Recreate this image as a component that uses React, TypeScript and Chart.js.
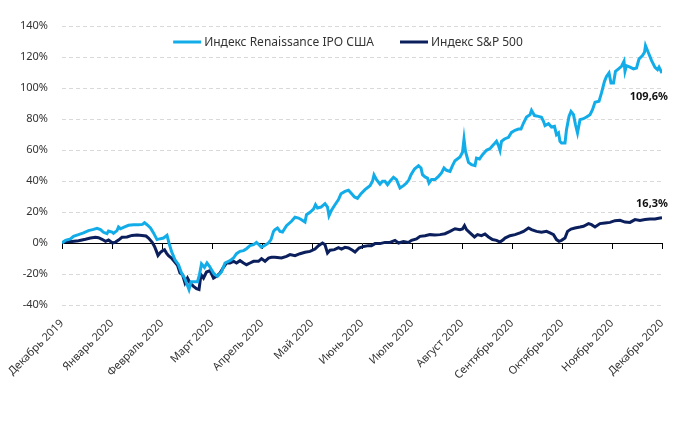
import React, { useEffect, useRef } from 'react';
import { Chart, registerables } from 'chart.js';

Chart.register(...registerables);

const monthLabels = [
  'Декабрь 2019', 'Январь 2020', 'Февраль 2020', 'Март 2020', 'Апрель 2020', 'Май 2020',
  'Июнь 2020', 'Июль 2020', 'Август 2020', 'Сентябрь 2020', 'Октябрь 2020', 'Ноябрь 2020', 'Декабрь 2020',
];

const seriesNames = ['Индекс Renaissance IPO США', 'Индекс S&P 500'];

// time in months since the start of December 2019
const ipoT = [
  0, 0.07, 0.17, 0.23, 0.33, 0.43, 0.53, 0.63, 0.7, 0.77, 0.83, 0.9, 0.93, 1.0, 1.03, 1.1, 1.13, 1.17, 1.23,
  1.33, 1.43, 1.53, 1.61, 1.65, 1.7, 1.77, 1.83, 1.9, 1.97, 2.03, 2.1, 2.14, 2.19, 2.26, 2.33, 2.39, 2.45,
  2.49, 2.54, 2.58, 2.65, 2.71, 2.75, 2.79, 2.85, 2.9, 2.95, 2.99, 3.03, 3.06, 3.11, 3.19, 3.26, 3.36, 3.43,
  3.49, 3.56, 3.63, 3.69, 3.76, 3.83, 3.89, 3.94, 3.99, 4.06, 4.13, 4.18, 4.23, 4.26, 4.31, 4.36, 4.41, 4.49,
  4.59, 4.66, 4.73, 4.79, 4.86, 4.89, 4.96, 5.03, 5.07, 5.11, 5.18, 5.26, 5.31, 5.34, 5.39, 5.46, 5.53, 5.58,
  5.66, 5.73, 5.78, 5.85, 5.91, 5.98, 6.06, 6.16, 6.21, 6.24, 6.29, 6.36, 6.41, 6.46, 6.51, 6.56, 6.63, 6.69,
  6.76, 6.83, 6.89, 6.94, 6.98, 7.05, 7.13, 7.18, 7.21, 7.26, 7.31, 7.34, 7.39, 7.46, 7.53, 7.59, 7.64, 7.69,
  7.76, 7.81, 7.86, 7.96, 8.01, 8.04, 8.07, 8.13, 8.19, 8.26, 8.29, 8.35, 8.41, 8.49, 8.56, 8.61, 8.66, 8.69,
  8.73, 8.76, 8.79, 8.85, 8.93, 8.99, 9.06, 9.13, 9.18, 9.23, 9.29, 9.36, 9.39, 9.45, 9.53, 9.59, 9.63, 9.66,
  9.73, 9.79, 9.85, 9.89, 9.93, 9.96, 9.99, 10.06, 10.09, 10.14, 10.18, 10.23, 10.27, 10.31, 10.36, 10.43,
  10.49, 10.56, 10.61, 10.66, 10.74, 10.79, 10.85, 10.89, 10.94, 10.98, 11.03, 11.07, 11.13, 11.19, 11.24,
  11.26, 11.29, 11.36, 11.43, 11.49, 11.54, 11.61, 11.65, 11.67, 11.73, 11.79, 11.86, 11.91, 11.94, 12,
];
const ipoV = [
  0, 1.7, 2.6, 4.3, 5.4, 6.5, 8.0, 8.8, 9.5, 8.6, 6.9, 6.0, 7.7, 7.1, 6.2, 8.0, 10.3, 9.2, 10.1,
  11.4, 11.8, 11.8, 12.0, 13.1, 11.8, 9.7, 6.5, 2.2, 2.8, 3.2, 4.9, 0, -5.4, -10.8, -14, -19.4, -22.6,
  -25.8, -30, -25, -25, -25, -20.4, -13.5, -15.7, -12.9, -15, -17.2, -19.4, -20.4, -21.5, -18.7, -12.9, -11.4, -9.7,
  -6.9, -5.4, -4.9, -3.7, -1.7, -1.1, 0.4, -1.1, -2.8, -1.5, 0, 2.2, 7.5, 8.6, 9.7, 7.5, 7.1, 11.2,
  14, 16.6, 16.1, 15, 13.5, 18.3, 19.8, 21.9, 24.7, 22.6, 23.2, 25.4, 23.2, 17.6, 21.1, 24.7, 28, 31.8,
  33.3, 34, 32.3, 29.7, 28.8, 31.8, 34.4, 37, 39.8, 43.9, 40.9, 38, 39.8, 39.8, 37.6, 39.8, 42.4, 40.9,
  35.5, 37, 38.7, 40.9, 44.1, 47.7, 49.9, 48.4, 44.1, 42.6, 41.9, 38.7, 40.9, 40.9, 43, 45.2, 48.4, 46.9,
  46.2, 49.9, 53.1, 55.5, 58.5, 67.1, 59.1, 52, 50.5, 49.9, 54.8, 54.2, 57, 59.8, 60.9, 62.8, 64.5, 65.6,
  62.8, 59.8, 65.6, 67.1, 68.2, 71.4, 72.7, 73.5, 73.5, 77.4, 81.3, 82.8, 85.6, 82.2, 81.7, 81.1, 78.5, 75.7,
  77, 74.8, 75.3, 69.9, 71, 65.6, 64.5, 64.5, 73.1, 81.7, 84.9, 82.8, 76.3, 71, 79.6, 80.2,
  81.3, 82.8, 86, 90.8, 91.4, 96.8, 104.3, 107.5, 109.7, 103.2, 103.2, 110.8, 112.3, 114, 117.2,
  110.8, 114.4, 113.5, 112.3, 112.9, 118.7, 120.9, 123, 127.3, 122.6, 117.8, 113.3, 111.8, 113.5, 109.6,
];

const spxT = [
  0, 0.07, 0.2, 0.33, 0.47, 0.57, 0.67, 0.73, 0.8, 0.87, 0.93, 1.01, 1.07, 1.13, 1.2, 1.3, 1.4, 1.5, 1.6,
  1.68, 1.73, 1.8, 1.85, 1.89, 1.92, 1.97, 2.01, 2.05, 2.09, 2.13, 2.19, 2.26, 2.31, 2.36, 2.41, 2.46, 2.51,
  2.56, 2.63, 2.69, 2.74, 2.78, 2.83, 2.89, 2.96, 3.03, 3.09, 3.16, 3.23, 3.29, 3.36, 3.43, 3.49, 3.56, 3.63,
  3.69, 3.76, 3.83, 3.93, 3.99, 4.06, 4.13, 4.19, 4.26, 4.39, 4.49, 4.56, 4.66, 4.76, 4.86, 4.96, 5.06, 5.13,
  5.21, 5.26, 5.31, 5.36, 5.45, 5.53, 5.59, 5.66, 5.73, 5.81, 5.86, 5.94, 6.03, 6.13, 6.19, 6.26, 6.36, 6.46,
  6.56, 6.66, 6.73, 6.83, 6.93, 6.99, 7.09, 7.16, 7.26, 7.36, 7.46, 7.56, 7.66, 7.76, 7.86, 7.96, 8.01, 8.05,
  8.09, 8.16, 8.25, 8.31, 8.39, 8.46, 8.53, 8.61, 8.69, 8.76, 8.83, 8.86, 8.96, 9.06, 9.16, 9.23, 9.33, 9.39,
  9.49, 9.59, 9.69, 9.76, 9.83, 9.89, 9.94, 9.99, 10.06, 10.11, 10.18, 10.26, 10.36, 10.43, 10.53, 10.59,
  10.66, 10.76, 10.86, 10.96, 11.06, 11.16, 11.26, 11.36, 11.46, 11.56, 11.66, 11.76, 11.86, 11.96, 12,
];
const spxV = [
  0, 1.1, 0.9, 1.5, 2.4, 3.2, 3.7, 3.4, 2.4, 1.1, 1.9, 0, 0.6, 1.9, 3.7, 3.9, 4.9, 5.2, 4.9,
  4.5, 3.2, 0.6, -2.2, -5.4, -8.0, -6.0, -5.0, -4.3, -6.5, -8.2, -9.7, -12.5, -14.4, -19.4, -20.4, -25.8, -22.6,
  -25.8, -28, -29.5, -30, -20.4, -22.6, -18.7, -17.8, -22.6, -21.5, -19.4, -15.7, -12.9, -12.9, -11.8, -12.9, -11.4, -12.9,
  -14, -12.9, -11.8, -11.8, -10.1, -11.8, -9.7, -9.2, -9.2, -9.7, -8.6, -7.5, -8.2, -6.9, -6, -5.4, -3.9, -1.7,
  0, -1.1, -6.5, -4.7, -4.3, -3, -3.9, -2.8, -3.2, -4.7, -5.8, -3.2, -2.2, -1.7, -1.7, -0.4, -0.4, 0.4,
  0.4, 1.7, 0, 0.9, 0.4, 1.7, 2.6, 4.3, 4.7, 5.4, 5.2, 5.4, 6, 7.5, 9.2, 8.6, 9, 11.2,
  8.6, 6.5, 3.9, 5.4, 4.7, 5.8, 3.9, 2.2, 1.7, 0.6, 2.2, 3.2, 4.7, 5.4, 6.5, 7.5, 9.7, 8.6,
  7.5, 6.9, 7.5, 6.5, 5.4, 2.2, 1.1, 1.7, 3.2, 7.5, 9, 9.7, 10.3, 10.8, 12.5, 11.8,
  10.3, 12.5, 12.9, 13.3, 14.4, 14.6, 13.5, 13.3, 15.1, 14.6, 15.1, 15.5, 15.5, 16.1, 16.3,
];

const FONT = '"Noto Sans", sans-serif';
const TEXT = '#333333';
const IPO_COLOR = '#12ADE9';
const SPX_COLOR = '#0B1F5C';

const fmtPct = (v: number) => v.toFixed(1).replace('.', ',') + '%';

const innerLegend = {
  id: 'innerLegend',
  afterDraw(chart: any) {
    const { ctx, chartArea } = chart;
    ctx.save();
    ctx.font = `12px ${FONT}`;
    const lineW = 28;
    const gapText = 3;
    const gapItems = 26;
    const items = chart.data.datasets.map((ds: any) => ({
      text: ds.label,
      color: ds.borderColor,
      w: lineW + gapText + ctx.measureText(ds.label).width,
    }));
    const total = items.reduce((s: number, it: any) => s + it.w, 0) + gapItems * (items.length - 1);
    let x = (chartArea.left + chartArea.right) / 2 - 14 - total / 2;
    const y = chartArea.top + 16;
    ctx.textBaseline = 'middle';
    ctx.textAlign = 'left';
    for (const it of items) {
      ctx.strokeStyle = it.color;
      ctx.lineWidth = 3;
      ctx.beginPath();
      ctx.moveTo(x, y);
      ctx.lineTo(x + lineW, y);
      ctx.stroke();
      ctx.fillStyle = TEXT;
      ctx.fillText(it.text, x + lineW + gapText, y + 1);
      x += it.w + gapItems;
    }
    ctx.restore();
  },
};

const endLabels = {
  id: 'endLabels',
  afterDatasetsDraw(chart: any) {
    const { ctx } = chart;
    ctx.save();
    ctx.font = `bold 11px ${FONT}`;
    ctx.fillStyle = '#111111';
    ctx.textAlign = 'right';
    ctx.textBaseline = 'middle';
    chart.data.datasets.forEach((ds: any, i: number) => {
      const meta = chart.getDatasetMeta(i);
      const pt = meta.data[meta.data.length - 1];
      const v = ds.data[ds.data.length - 1].y;
      ctx.fillText(fmtPct(v), pt.x + 6, pt.y + ds.labelDy);
    });
    ctx.restore();
  },
};

export default function App() {
  const ref = useRef<HTMLCanvasElement>(null);
  useEffect(() => {
    const chart = new Chart(ref.current!, {
      type: 'line',
      data: {
        datasets: [
          {
            label: seriesNames[0],
            data: ipoT.map((t, i) => ({ x: t, y: ipoV[i] })),
            borderColor: IPO_COLOR,
            backgroundColor: IPO_COLOR,
            borderWidth: 3,
            pointRadius: 0,
            tension: 0,
            labelDy: 24,
          } as any,
          {
            label: seriesNames[1],
            data: spxT.map((t, i) => ({ x: t, y: spxV[i] })),
            borderColor: SPX_COLOR,
            backgroundColor: SPX_COLOR,
            borderWidth: 3,
            pointRadius: 0,
            tension: 0,
            labelDy: -14,
          } as any,
        ],
      },
      options: {
        animation: false,
        responsive: true,
        maintainAspectRatio: false,
        layout: { padding: { top: 26, right: 18, left: 0, bottom: 0 } },
        plugins: { legend: { display: false }, tooltip: { enabled: false } },
        scales: {
          x: {
            type: 'linear',
            position: 'bottom',
            min: 0,
            max: 12,
            ticks: {
              stepSize: 1,
              autoSkip: false,
              maxRotation: 45,
              minRotation: 45,
              padding: 4,
              color: TEXT,
              font: { family: FONT, size: 11 },
              callback: (v: any) => monthLabels[Math.round(Number(v))] ?? '',
            },
            grid: { display: false },
            border: { display: false },
            afterFit: (s: any) => { s.height = 116; },
          },
          x0: {
            type: 'linear',
            position: { y: 0 },
            min: 0,
            max: 12,
            ticks: { display: false, stepSize: 1 },
            grid: { drawOnChartArea: false, drawTicks: true, tickLength: 5, color: '#000000' },
            border: { display: true, color: '#000000', width: 1 },
          },
          y: {
            min: -40,
            max: 140,
            ticks: {
              stepSize: 20,
              padding: 14,
              color: TEXT,
              font: { family: FONT, size: 11 },
              callback: (v: any) => `${v}%`,
            },
            grid: {
              drawTicks: false,
              color: (c: any) => (c.tick && c.tick.value === 0 ? 'rgba(0,0,0,0)' : '#d9d9d9'),
            },
            border: { display: false, dash: [4, 3] },
            afterFit: (s: any) => { s.width = 62; },
          },
        } as any,
      },
      plugins: [innerLegend, endLabels],
    });
    return () => chart.destroy();
  }, []);
  return (
    <div style={{ position: 'fixed', left: 0, top: 0, width: 680, height: 421, background: '#fff' }}>
      <canvas ref={ref} />
    </div>
  );
}
